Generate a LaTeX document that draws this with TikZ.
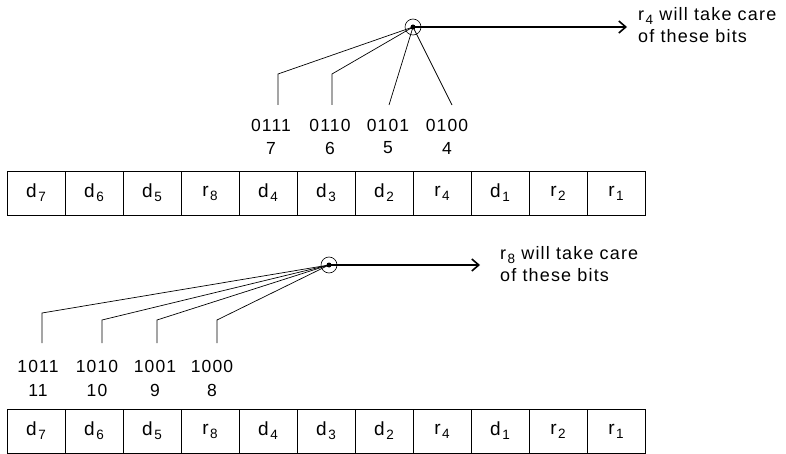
\documentclass[tikz,border=0pt]{standalone}
\usepackage{fontspec}
\setmainfont{Liberation Sans}[LetterSpace=6.5]
\usetikzlibrary{arrows.meta,positioning,calc}
\newcommand\sub[1]{\kern1.5pt\raisebox{-4pt}{\fontsize{13.5}{14}\selectfont#1}}
\tikzset{
  cell/.style={draw=black, line width=0.9pt, minimum width=58pt, minimum height=44pt, inner sep=0pt, font=\fontsize{19}{22}\selectfont},
  bits/.style={inner sep=1pt, font=\fontsize{17.5}{20}\selectfont},
  note/.style={align=left, anchor=west, inner sep=0pt, font=\fontsize{18}{21.5}\selectfont},
  hub/.style={circle, draw=black, line width=0.6pt, minimum size=16pt, inner sep=0pt},
  dot/.style={circle, fill=black, minimum size=5pt, inner sep=0pt},
  wire/.style={line width=0.7pt},
  arrow/.style={-{Straight Barb[length=7pt,width=12pt]}, line width=1.6pt}
}

\begin{document}
\begin{tikzpicture}[x=1pt,y=-1pt]
\useasboundingbox (0,0) rectangle (786,454);

% registers
\foreach \lbl [count=\i] in {d\sub{7}, d\sub{6}, d\sub{5}, r\sub{8}, d\sub{4}, d\sub{3}, d\sub{2}, r\sub{4}, d\sub{1}, r\sub{2}, r\sub{1}} {
  \node[cell] (u\i) at (58*\i-22,193) {\lbl};
  \node[cell] (w\i) at (58*\i-22,431) {\lbl};
}

% positions checked by r4
\foreach \pos/\code/\x in {7/0111/271, 6/0110/330, 5/0101/388, 4/0100/447} {
  \node[bits] (b\pos) at (\x,125.5) {\code};
  \node[bits] (p\pos) at (\x,148) {\pos};
}
\node[hub] (h4) at (413,27) {};
\node[dot] at (h4.center) {};
\node[note] (note4) at (638,25) {r\sub{4} will take care\\of these bits};
\foreach \pos/\kx/\ky in {7/278/74, 6/332/74, 5/389/105, 4/452/105} {
  \coordinate (e\pos) at (\kx,105);
  \draw[wire] (h4.center) -- (\kx,\ky) -- (e\pos);
}
\draw[arrow] (h4.center) -- ([xshift=-11pt]h4.center -| note4.west);

% positions checked by r8
\foreach \pos/\code/\x in {11/1011/38, 10/1010/97, 9/1001/155, 8/1000/212} {
  \node[bits] (b\pos) at (\x,366) {\code};
  \node[bits] (p\pos) at (\x,390) {\pos};
}
\node[hub] (h8) at (329,265) {};
\node[dot] at (h8.center) {};
\node[note] (note8) at (500,264) {r\sub{8} will take care\\of these bits};
\foreach \pos/\kx/\ky in {11/42/313, 10/102/320, 9/157/320, 8/217/320} {
  \coordinate (e\pos) at (\kx,343);
  \draw[wire] (h8.center) -- (\kx,\ky) -- (e\pos);
}
\draw[arrow] (h8.center) -- ([xshift=-20pt]h8.center -| note8.west);
\end{tikzpicture}
\end{document}
